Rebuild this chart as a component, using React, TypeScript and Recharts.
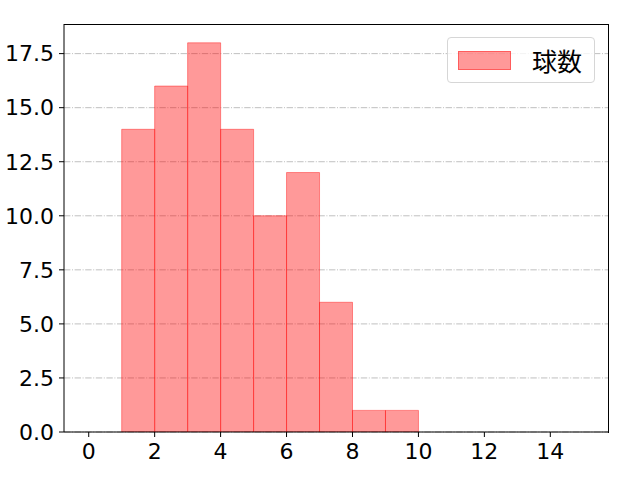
import {
  BarChart,
  Bar,
  XAxis,
  YAxis,
  CartesianGrid,
} from "recharts";

// histogram bins (left edge) and counts
const binStarts = [1, 2, 3, 4, 5, 6, 7, 8, 9];
const counts = [14, 16, 18, 14, 10, 12, 6, 1, 1];
const xTicks = [0, 2, 4, 6, 8, 10, 12, 14];
const yTicks = [0, 2.5, 5, 7.5, 10, 12.5, 15, 17.5];
const seriesName = "球数";

const data = binStarts.map((s, i) => ({ x: s + 0.5, count: counts[i] }));

const FONT = "'DejaVu Sans', 'Noto Sans CJK JP', sans-serif";
const tickStyle = { fontSize: 22, fill: "#000", fontFamily: FONT };

function LegendBox() {
  return (
    <div
      style={{
        position: "absolute",
        left: 447,
        top: 37,
        boxSizing: "border-box",
        width: 148,
        height: 46,
        border: "1px solid #d6d6d6",
        borderRadius: 4,
        background: "rgba(255,255,255,0.8)",
        display: "flex",
        alignItems: "center",
        fontFamily: "'Noto Sans CJK JP', sans-serif",
        fontSize: 25,
        color: "#000",
      }}
    >
      <span
        style={{
          display: "inline-block",
          marginLeft: 10,
          width: 53,
          height: 19,
          boxSizing: "border-box",
          background: "rgba(255,0,0,0.4)",
          border: "1px solid rgba(255,0,0,0.4)",
        }}
      />
      <span style={{ marginLeft: 21 }}>{seriesName}</span>
    </div>
  );
}

export default function App() {
  return (
    <div style={{ position: "absolute", left: 0, top: 0, width: 640, height: 480, background: "#fff" }}>
      <BarChart
        width={640}
        height={480}
        data={data}
        margin={{ top: 24, right: 32, bottom: 0, left: 0 }}
        barCategoryGap={0}
        barGap={0}
      >
        <CartesianGrid
          vertical={false}
          horizontalValues={yTicks}
          stroke="#b0b0b0"
          strokeWidth={0.8}
          strokeDasharray="6.4 1.6 1 1.6"
        />
        <XAxis
          type="number"
          dataKey="x"
          domain={[-0.75, 15.75]}
          ticks={xTicks}
          allowDataOverflow
          height={48}
          tick={tickStyle}
          tickSize={5}
          tickMargin={6}
          axisLine={{ stroke: "#000", strokeWidth: 1 }}
          tickLine={{ stroke: "#000" }}
        />
        <YAxis
          type="number"
          domain={[0, 18.87]}
          ticks={yTicks}
          allowDataOverflow
          width={64}
          tick={tickStyle}
          tickSize={5}
          tickMargin={5}
          tickFormatter={(v: number) => v.toFixed(1)}
          axisLine={{ stroke: "#000", strokeWidth: 1 }}
          tickLine={{ stroke: "#000" }}
        />
        <Bar
          dataKey="count"
          name={seriesName}
          fill="red"
          fillOpacity={0.4}
          stroke="red"
          strokeOpacity={0.4}
          strokeWidth={1}
          isAnimationActive={false}
        />
      </BarChart>
      {/* top and right spines */}
      <div style={{ position: "absolute", left: 64, top: 24, width: 544, height: 408, border: "1px solid #000", borderBottom: "none", borderLeft: "none", pointerEvents: "none" }} />
      <LegendBox />
    </div>
  );
}
